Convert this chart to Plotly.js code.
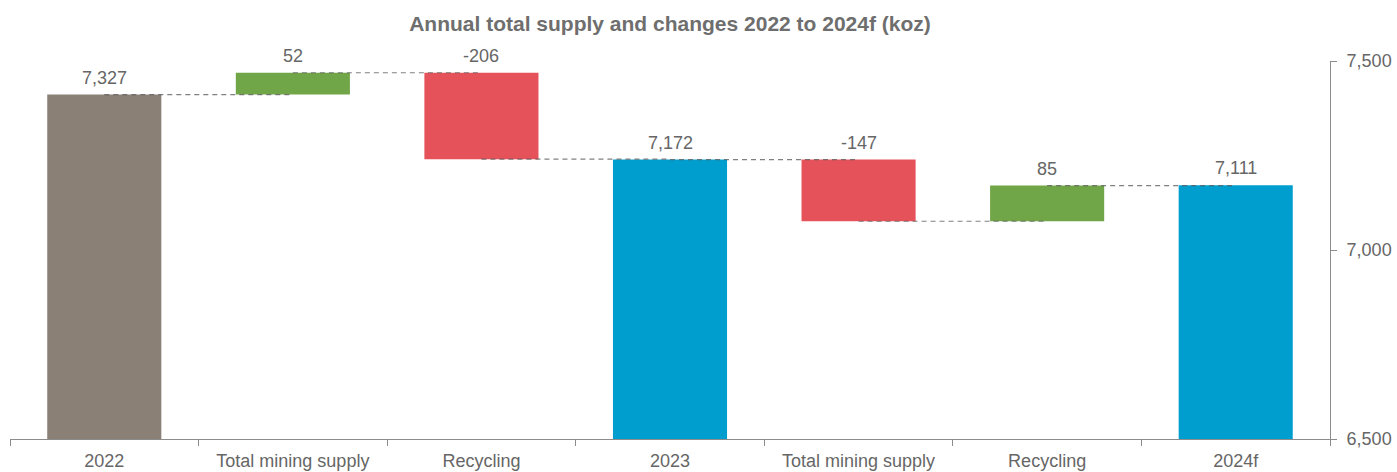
<!DOCTYPE html>
<html>
<head>
<meta charset="utf-8">
<script src="https://cdn.plot.ly/plotly-3.0.1.min.js"></script>
<style>html,body{margin:0;padding:0;background:#fff;}#chart{width:1397px;height:472px;}</style>
</head>
<body>
<div id="chart"></div>
<script>
// Data
const categories = ["2022", "Total mining supply", "Recycling", "2023", "Total mining supply", "Recycling", "2024f"];
const values = [7327, 52, -206, 7172, -147, 85, 7111];
const kinds = ["total2022", "delta", "delta", "total", "delta", "delta", "total"];
const yTicks = [6500, 7000, 7500];
const colorMap = {total2022: "#8A8076", total: "#009ECF", up: "#70A548", down: "#E5525A"};

// Build bars from data
const xs = categories.map((_, i) => i);
let level = 0;
const bases = [], heights = [], colors = [], tops = [], levels = [];
values.forEach((v, i) => {
  if (kinds[i] === "delta") {
    bases.push(level); heights.push(v);
    colors.push(v >= 0 ? colorMap.up : colorMap.down);
    tops.push(Math.max(level, level + v));
    level = level + v;
  } else {
    bases.push(0); heights.push(v);
    colors.push(colorMap[kinds[i]]);
    tops.push(v);
    level = v;
  }
  levels.push(level);
});

// Connectors: from centre of bar i to centre of bar i+1 at running level
const cx = [], cy = [];
for (let i = 0; i < values.length - 1; i++) {
  cx.push(xs[i], xs[i + 1], null);
  cy.push(levels[i], levels[i], null);
}

const font = "Liberation Sans, Arial, sans-serif";
const grey = "#666666";

const traces = [
  {type: "bar", x: xs, y: heights, base: bases, width: 0.605,
   marker: {color: colors, line: {width: 0}}, hoverinfo: "skip", xaxis: "x", yaxis: "y"},
  {type: "scatter", mode: "lines", x: cx, y: cy, connectgaps: false,
   line: {color: "rgba(85,85,85,0.75)", width: 1.2, dash: "5px,4px"},
   hoverinfo: "skip", xaxis: "x", yaxis: "y"},
  {type: "scatter", mode: "markers", x: [0, 6], y: [yTicks[0], yTicks[yTicks.length - 1]], marker: {opacity: 0},
   hoverinfo: "skip", xaxis: "x", yaxis: "y2"}
];

const annotations = values.map((v, i) => ({
  x: xs[i], y: tops[i], xref: "x", yref: "y",
  text: v.toLocaleString("en-US"), showarrow: false,
  yanchor: "bottom", yshift: 5,
  font: {family: font, size: 18, color: grey}
}));

const layout = {
  width: 1397, height: 472,
  margin: {l: 10, r: 67, t: 61, b: 33},
  paper_bgcolor: "#fff", plot_bgcolor: "#fff",
  showlegend: false,
  title: {text: "<b>Annual total supply and changes 2022 to 2024f (koz)</b>",
          font: {family: font, size: 21, color: "#6e6e6e"},
          x: 0.5, xref: "paper", xanchor: "center", y: 0.95, yref: "container", yanchor: "middle"},
  xaxis: {range: [-0.5, 6.5], tickmode: "array", tickvals: xs, ticktext: categories,
          ticks: "", showgrid: false, zeroline: false, showline: true,
          linecolor: "#8c8c8c", linewidth: 1, ticklabelstandoff: 5,
          tickfont: {family: font, size: 18, color: grey},
          minor: {tickmode: "array", tickvals: [-0.5, 0.5, 1.5, 2.5, 3.5, 4.5, 5.5, 6.5],
                  ticks: "outside", ticklen: 6, tickcolor: "#8c8c8c", tickwidth: 1, showgrid: false},
          fixedrange: true},
  yaxis: {range: [6506, 7407], visible: false, showgrid: false, zeroline: false, fixedrange: true},
  yaxis2: {range: [yTicks[0], yTicks[yTicks.length - 1]], overlaying: "y", side: "right", anchor: "x",
           tickmode: "array", tickvals: yTicks, tickformat: ",d",
           ticks: "outside", ticklen: 6, tickcolor: "#8c8c8c", ticklabelstandoff: 6,
           showline: true, linecolor: "#8c8c8c", linewidth: 1,
           showgrid: false, zeroline: false,
           tickfont: {family: font, size: 18, color: grey}, fixedrange: true},
  annotations: annotations
};

Plotly.newPlot("chart", traces, layout, {displayModeBar: false, staticPlot: true});
</script>
</body>
</html>
